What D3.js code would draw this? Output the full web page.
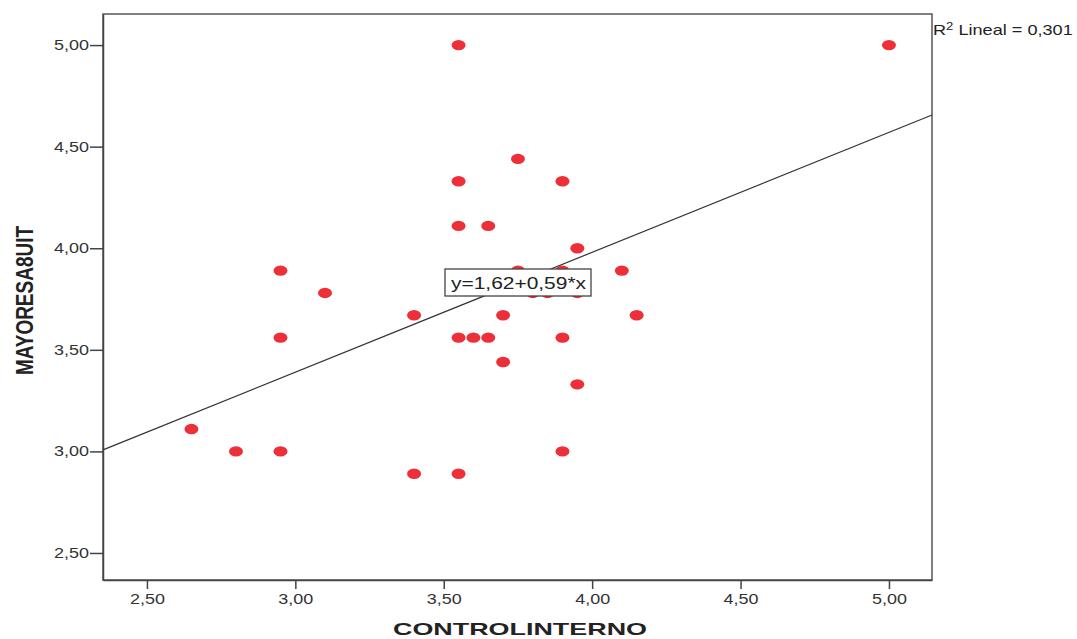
<html>
  <script src="https://d3js.org/d3.v7.min.js"></script>
  <body style="margin:0;background:#fff">
    <div id="svgcontainer"></div>
    <script>
      // data
      var controlInterno = [2.65, 2.80, 2.95, 2.95, 2.95, 3.10, 3.40, 3.40, 3.55, 3.55, 3.55, 3.55, 3.55,
                            3.60, 3.65, 3.65, 3.70, 3.70, 3.75, 3.75, 3.80, 3.85, 3.90, 3.90, 3.90, 3.90,
                            3.95, 3.95, 3.95, 4.10, 4.15, 5.00];
      var mayores = [3.11, 3.00, 3.89, 3.56, 3.00, 3.78, 3.67, 2.89, 5.00, 4.33, 4.11, 3.56, 2.89,
                     3.56, 4.11, 3.56, 3.67, 3.44, 4.44, 3.89, 3.78, 3.78, 4.33, 3.89, 3.56, 3.00,
                     4.00, 3.78, 3.33, 3.89, 3.67, 5.00];
      var tickValues = [2.5, 3.0, 3.5, 4.0, 4.5, 5.0];
      var intercept = 1.62, slope = 0.59, r2 = "0,301";

      var width = 1077, height = 639;
      var svg = d3.select("#svgcontainer").append("svg")
        .attr("width", width).attr("height", height)
        .style("font-family", "Arial, 'Liberation Sans', sans-serif");

      var pLeft = 103, pRight = 932, pTop = 14, pBottom = 580;
      var x = d3.scaleLinear().domain([2.352, 5.145]).range([pLeft, pRight]);
      var y = d3.scaleLinear().domain([2.367, 5.153]).range([pBottom, pTop]);
      var fmt = function(d) { return d3.format(".2f")(d).replace(".", ","); };

      // frame
      svg.append("rect")
        .attr("x", pLeft).attr("y", pTop)
        .attr("width", pRight - pLeft).attr("height", pBottom - pTop)
        .attr("fill", "none").attr("stroke", "#555").attr("stroke-width", 1.5);

      // axes
      var xAxis = svg.append("g").attr("transform", "translate(0," + pBottom + ")")
        .call(d3.axisBottom(x).tickValues(tickValues).tickFormat(fmt)
          .tickSizeInner(9).tickSizeOuter(0).tickPadding(5));
      var yAxis = svg.append("g").attr("transform", "translate(" + pLeft + ",0)")
        .call(d3.axisLeft(y).tickValues(tickValues).tickFormat(fmt)
          .tickSizeInner(13).tickSizeOuter(0).tickPadding(1));
      [xAxis, yAxis].forEach(function(a) {
        a.select(".domain").attr("stroke", "#444").attr("stroke-width", 1.5);
        a.selectAll(".tick line").attr("stroke", "#444").attr("stroke-width", 1.5);
        a.selectAll(".tick text").attr("fill", "#333").style("font-size", "14px")
          .style("font-family", "Arial, 'Liberation Sans', sans-serif")
          .attr("textLength", 35).attr("lengthAdjust", "spacingAndGlyphs");
      });

      // regression line
      var xd = x.domain();
      svg.append("line")
        .attr("x1", x(xd[0])).attr("y1", y(intercept + slope * xd[0]))
        .attr("x2", x(xd[1])).attr("y2", y(intercept + slope * xd[1]))
        .attr("stroke", "#333").attr("stroke-width", 1.2);

      // points
      svg.append("g").selectAll("ellipse")
        .data(controlInterno)
        .enter().append("ellipse")
        .attr("cx", function(d) { return x(d); })
        .attr("cy", function(d, i) { return y(mayores[i]); })
        .attr("rx", 7).attr("ry", 5.2)
        .attr("fill", "#ec2f39");

      // equation label
      var eq = svg.append("g").attr("transform", "translate(445,269)");
      eq.append("rect").attr("width", 146).attr("height", 27)
        .attr("fill", "#fff").attr("stroke", "#444").attr("stroke-width", 1.3);
      eq.append("text").attr("x", 6).attr("y", 20)
        .style("font-size", "16px").attr("fill", "#222")
        .attr("textLength", 135).attr("lengthAdjust", "spacingAndGlyphs")
        .text("y=" + String(intercept).replace(".", ",") + "+" + String(slope).replace(".", ",") + "*x");

      // R2 label
      var rt = svg.append("text").attr("transform", "translate(933,35) scale(1.25,1)")
        .style("font-size", "14.5px").attr("fill", "#222");
      rt.append("tspan").text("R");
      rt.append("tspan").attr("dy", -5).style("font-size", "10.5px").text("2");
      rt.append("tspan").attr("dy", 5).text(" Lineal = " + r2);

      // axis titles
      svg.append("text")
        .attr("x", 393).attr("y", 635)
        .style("font-size", "17px").style("font-weight", "bold").attr("fill", "#222")
        .attr("textLength", 254).attr("lengthAdjust", "spacingAndGlyphs")
        .text("CONTROLINTERNO");
      svg.append("text")
        .attr("transform", "translate(33,375) rotate(-90)")
        .style("font-size", "23px").style("font-weight", "bold").attr("fill", "#222")
        .attr("textLength", 149).attr("lengthAdjust", "spacingAndGlyphs")
        .text("MAYORESA8UIT");
    </script>
  </body>
</html>
